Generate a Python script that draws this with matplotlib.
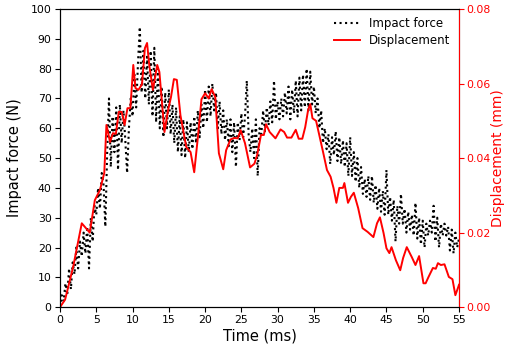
import matplotlib
matplotlib.use("Agg")
import matplotlib.pyplot as plt

# impact force sampled every 0.25 ms (N)
force_t = [i * 0.25 for i in range(221)]
force_n = [
    0, 4, 2, 8, 4, 13, 6, 15, 11, 20, 13, 22, 17, 25, 18, 27,
    13, 30, 22, 34, 31, 40, 33, 45, 41, 27, 52, 70, 47, 64, 52, 67,
    46, 68, 55, 66, 56, 45, 60, 70, 64, 78, 67, 82, 94, 72, 86, 70,
    84, 68, 86, 64, 87, 62, 80, 60, 74, 57, 72, 60, 73, 58, 68, 55,
    67, 52, 64, 51, 63, 50, 62, 52, 62, 53, 64, 55, 66, 57, 68, 60,
    73, 62, 74, 64, 75, 66, 72, 60, 69, 58, 66, 56, 63, 54, 63, 52,
    62, 47, 62, 56, 65, 57, 64, 76, 58, 52, 60, 50, 63, 44, 60, 58,
    66, 59, 67, 61, 69, 62, 76, 63, 69, 63, 70, 64, 72, 65, 74, 63,
    73, 65, 76, 64, 77, 66, 78, 67, 80, 66, 79, 68, 74, 65, 70, 60,
    66, 55, 60, 53, 58, 48, 57, 51, 59, 49, 57, 48, 56, 47, 55, 44,
    57, 44, 52, 42, 50, 40, 47, 38, 43, 37, 44, 36, 44, 35, 41, 33,
    40, 32, 39, 31, 46, 31, 37, 29, 36, 22, 34, 28, 38, 28, 33, 25,
    32, 26, 31, 24, 35, 23, 30, 21, 29, 20, 28, 24, 29, 25, 34, 22,
    30, 20, 28, 24, 28, 24, 27, 19, 26, 18, 25, 20, 23,
]

# displacement (mm)
disp_t = [
    0, 0.7, 1.8, 3.0, 4.1, 4.8, 5.5, 6.1, 6.4, 6.9, 7.3, 7.7, 8.1, 8.5, 8.9,
    9.3, 9.7, 10.1, 10.4, 10.8, 11.3, 11.7, 12.0, 12.3, 12.8, 13.4, 13.7, 14.4,
    14.9, 15.3, 15.7, 16.1, 16.6, 17.4, 18.0, 18.5, 19.0, 19.5, 20.0, 20.5,
    20.9, 21.4, 21.9, 22.5, 22.9, 23.5, 24.0, 24.5, 24.9, 25.5, 26.2, 26.8,
    27.2, 27.7, 28.1, 28.4, 28.9, 29.7, 30.4, 30.9, 31.3, 31.9, 32.5, 32.9,
    33.4, 33.8, 34.2, 34.5, 34.8, 35.3, 35.9, 36.3, 36.8, 37.3, 37.7, 38.1,
    38.5, 39.0, 39.2, 39.7, 40.1, 40.5, 41.1, 41.7, 42.4, 43.2, 43.7, 44.1,
    44.6, 45.0, 45.4, 45.7, 46.3, 46.9, 47.3, 47.8, 48.5, 49.0, 49.5, 50.1,
    50.4, 50.8, 51.4, 51.8, 52.1, 52.5, 53.0, 53.6, 54.1, 54.5, 54.9, 55.0,
]
disp_mm = [
    0, 0.002, 0.0107, 0.0225, 0.020, 0.0287, 0.0314, 0.036, 0.0489, 0.0443,
    0.0467, 0.0465, 0.0524, 0.0524, 0.0489, 0.0534, 0.0534, 0.065, 0.0588,
    0.0583, 0.0598, 0.0695, 0.0709, 0.065, 0.0583, 0.065, 0.0631, 0.047,
    0.0529, 0.0564, 0.0612, 0.061, 0.0515, 0.043, 0.0416, 0.0362, 0.0455,
    0.0558, 0.0574, 0.056, 0.0585, 0.0564, 0.0413, 0.037, 0.0421, 0.045,
    0.0454, 0.0453, 0.0475, 0.044, 0.0375, 0.0385, 0.041, 0.0462, 0.0462,
    0.0491, 0.047, 0.0453, 0.0477, 0.047, 0.0455, 0.0455, 0.0476, 0.0452,
    0.0452, 0.0483, 0.0529, 0.0545, 0.0507, 0.05, 0.0448, 0.0413, 0.0368,
    0.035, 0.032, 0.028, 0.032, 0.032, 0.0333, 0.028, 0.0296, 0.0307, 0.0266,
    0.0212, 0.0202, 0.0188, 0.0225, 0.0241, 0.0199, 0.0158, 0.0145, 0.0161,
    0.0126, 0.0099, 0.0132, 0.0161, 0.0134, 0.0113, 0.0137, 0.0064, 0.0064,
    0.0081, 0.0105, 0.0103, 0.0118, 0.0113, 0.0115, 0.0081, 0.0075, 0.0032,
    0.0054, 0.006,
]

fig = plt.figure(figsize=(5.06, 3.49), dpi=100)
ax = fig.add_axes([0.1186, 0.120, 0.7885, 0.854])
ax2 = ax.twinx()

l1, = ax.plot(force_t, force_n, color="black", linestyle=":", linewidth=1.5,
              label="Impact force")
l2, = ax2.plot(disp_t, disp_mm, color="red", linewidth=1.4, label="Displacement")

ax.set_xlim(0, 55)
ax.set_ylim(0, 100)
ax2.set_ylim(0, 0.08)
ax.set_xticks(range(0, 56, 5))
ax.set_yticks(range(0, 101, 10))
ax2.set_yticks([0, 0.02, 0.04, 0.06, 0.08])
ax2.set_yticklabels(["0.00", "0.02", "0.04", "0.06", "0.08"])

ax.set_xlabel("Time (ms)", fontsize=10.5, labelpad=2)
ax.set_ylabel("Impact force (N)", fontsize=10.5, labelpad=6)
ax2.set_ylabel("Displacement (mm)", fontsize=10, color="red", labelpad=0)
ax.tick_params(labelsize=7.8, length=3.5, pad=2.5)
ax2.tick_params(axis="y", labelsize=7.8, colors="red", length=3.5, pad=2)
ax2.spines["right"].set_color("red")

ax.legend([l1, l2], ["Impact force", "Displacement"], loc="upper right",
          frameon=False, fontsize=8.5, borderaxespad=0.3, labelspacing=0.3,
          handlelength=2.2)

fig.savefig("out.png", dpi=100)
